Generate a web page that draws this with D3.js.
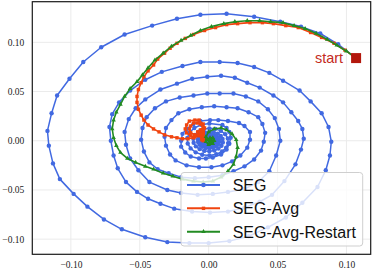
<!DOCTYPE html>
<html><head><meta charset="utf-8">
<script src="https://cdn.jsdelivr.net/npm/d3@7"></script>
<style>html,body{margin:0;padding:0;background:#fff;}svg{display:block;}</style>
</head><body>
<script>
// ---- data ----
const xTicks = [-0.10, -0.05, 0.00, 0.05, 0.10];
const xTickLabels = ["\u22120.10", "\u22120.05", "0.00", "0.05", "0.10"];
const yTicks = [-0.10, -0.05, 0.00, 0.05, 0.10];
const yTickLabels = ["\u22120.10", "\u22120.05", "0.00", "0.05", "0.10"];
const seriesNames = ["SEG", "SEG-Avg", "SEG-Avg-Restart"];
const startPoint = [0.107, 0.084];
const startLabel = "start";

const seg = [
[0.107,0.084],[0.094,0.098],[0.081,0.109],[0.067,0.116],[0.052,0.121],[0.033,0.126],[0.013,0.129],[-0.006,0.128],[-0.023,0.124],[-0.041,0.117],[-0.061,0.108],[-0.078,0.095],[-0.091,0.080],[-0.101,0.063],[-0.110,0.046],[-0.114,0.028],[-0.117,0.010],[-0.116,-0.005],[-0.113,-0.023],[-0.108,-0.039],[-0.098,-0.054],[-0.088,-0.067],[-0.076,-0.080],[-0.063,-0.090],[-0.046,-0.098],[-0.030,-0.103],[-0.014,-0.104],[0.000,-0.104],[0.015,-0.102],[0.029,-0.097],[0.043,-0.088],[0.056,-0.078],[0.068,-0.063],[0.079,-0.047],[0.085,-0.030],[0.088,-0.015],[0.089,-0.001],
[0.087,0.014],[0.082,0.028],[0.074,0.040],[0.066,0.051],[0.054,0.061],[0.044,0.069],[0.033,0.075],[0.021,0.079],[0.008,0.080],[-0.006,0.080],[-0.019,0.076],[-0.034,0.070],[-0.046,0.062],[-0.057,0.051],[-0.065,0.039],[-0.070,0.027],[-0.072,0.014],[-0.071,0.000],[-0.069,-0.015],[-0.066,-0.028],[-0.060,-0.042],[-0.052,-0.052],[-0.044,-0.059],[-0.035,-0.064],[-0.025,-0.069],[-0.012,-0.072],[0.001,-0.073],[0.014,-0.072],[0.026,-0.068],[0.037,-0.062],[0.046,-0.055],[0.055,-0.041],[0.063,-0.024],[0.067,-0.009],[0.069,0.002],
[0.068,0.012],[0.065,0.020],[0.060,0.029],[0.054,0.039],[0.047,0.046],[0.037,0.054],[0.028,0.059],[0.019,0.064],[0.009,0.066],[-0.001,0.065],[-0.012,0.063],[-0.023,0.058],[-0.035,0.052],[-0.046,0.042],[-0.053,0.033],[-0.058,0.022],[-0.061,0.009],[-0.060,-0.004],[-0.057,-0.018],[-0.051,-0.030],[-0.043,-0.042],[-0.030,-0.050],[-0.020,-0.053],[-0.008,-0.055],[0.003,-0.054],[0.014,-0.052],[0.026,-0.049],[0.036,-0.042],[0.044,-0.031],[0.049,-0.015],[0.052,0.000],
[0.051,0.012],[0.048,0.023],[0.043,0.032],[0.036,0.040],[0.027,0.045],[0.018,0.048],[0.008,0.048],[-0.001,0.048],[-0.011,0.046],[-0.021,0.044],[-0.031,0.040],[-0.039,0.033],[-0.045,0.024],[-0.048,0.013],[-0.049,0.001],[-0.047,-0.011],[-0.043,-0.022],[-0.037,-0.029],[-0.029,-0.033],[-0.020,-0.037],[-0.010,-0.038],[0.000,-0.037],[0.010,-0.035],[0.018,-0.031],[0.026,-0.026],[0.033,-0.019],[0.038,-0.010],[0.040,-0.001],[0.041,0.008],
[0.039,0.017],[0.036,0.024],[0.029,0.029],[0.021,0.033],[0.013,0.034],[0.004,0.035],[-0.005,0.034],[-0.014,0.032],[-0.022,0.028],[-0.027,0.021],[-0.031,0.013],[-0.032,0.004],[-0.031,-0.005],[-0.028,-0.014],[-0.024,-0.020],[-0.016,-0.025],[-0.007,-0.027],[0.002,-0.027],[0.010,-0.025],[0.017,-0.021],[0.023,-0.015],[0.028,-0.007],[0.030,0.001],
[0.030,0.009],[0.026,0.015],[0.022,0.018],[0.014,0.020],[0.007,0.021],[0.001,0.021],[-0.006,0.020],[-0.011,0.017],[-0.016,0.012],[-0.019,0.007],[-0.020,0.000],[-0.020,-0.006],[-0.017,-0.012],[-0.013,-0.016],[-0.007,-0.018],[-0.002,-0.018],[0.003,-0.017],[0.009,-0.014],[0.013,-0.009],[0.015,-0.003],[0.016,0.003],[0.015,0.009],[0.013,0.013],[0.010,0.016],
[0.0005,0.0175],[-0.0054,0.0162],[-0.0104,0.0129],[-0.0139,0.0083],[-0.0155,0.0028],[-0.0152,-0.0028],[-0.0131,-0.0078],[-0.0094,-0.0118],[-0.0047,-0.0142],[0.0005,-0.0149],[0.0055,-0.0137],[0.0097,-0.0110],[0.0127,-0.0070],[0.0141,-0.0024],[0.0139,0.0024],[0.0120,0.0067],[0.0089,0.0100],[0.0049,0.0121],
[0.0005,0.0126],[-0.0037,0.0117],[-0.0073,0.0093],[-0.0099,0.0060],[-0.0111,0.0020],[-0.0109,-0.0020],[-0.0093,-0.0057],[-0.0066,-0.0085],[-0.0032,-0.0103],[0.0005,-0.0107],[0.0041,-0.0099],[0.0071,-0.0079],[0.0093,-0.0051],[0.0103,-0.0017],[0.0101,0.0017],[0.0088,0.0048],[0.0066,0.0072],[0.0037,0.0087],
[0.0005,0.0091],[-0.0026,0.0084],[-0.0052,0.0067],[-0.0070,0.0043],[-0.0078,0.0015],[-0.0077,-0.0014],[-0.0066,-0.0041],[-0.0047,-0.0061],[-0.0022,-0.0074],[0.0005,-0.0077],[0.0031,-0.0071],[0.0053,-0.0057],[0.0068,-0.0037],[0.0076,-0.0013],[0.0075,0.0012],[0.0065,0.0035],[0.0049,0.0052],[0.0028,0.0063],
[0.0005,0.0066],[-0.0017,0.0061],[-0.0036,0.0048],[-0.0049,0.0031],[-0.0055,0.0011],[-0.0054,-0.0010],[-0.0046,-0.0029],[-0.0032,-0.0044],[-0.0014,-0.0053],[0.0005,-0.0056],[0.0024,-0.0051],[0.0040,-0.0041],[0.0051,-0.0026],[0.0056,-0.0009],[0.0055,0.0009],[0.0048,0.0025],[0.0037,0.0038],[0.0022,0.0045],
[0.0005,0.0047],[-0.0011,0.0044],[-0.0024,0.0035],[-0.0034,0.0022],[-0.0038,0.0008],[-0.0038,-0.0008],[-0.0032,-0.0021],[-0.0022,-0.0032],[-0.0009,-0.0038],[0.0005,-0.0040],[0.0019,-0.0037],[0.0030,-0.0030],[0.0038,-0.0019],[0.0042,-0.0007],[0.0041,0.0006],[0.0036,0.0018],[0.0028,0.0027],[0.0017,0.0033],
[0.0005,0.0031],[-0.0010,0.0024],[-0.0020,0.0010],[-0.0021,-0.0005],[-0.0014,-0.0018],[0.0000,-0.0024],[0.0014,-0.0020],[0.0022,-0.0009],[0.0023,0.0004],[0.0017,0.0014],[0.0008,0.0018]
];

const segAvg = [
[0.107,0.084],[0.099,0.092],[0.091,0.099],[0.082,0.105],[0.074,0.110],[0.065,0.115],[0.056,0.117],[0.047,0.119],[0.039,0.120],[0.030,0.120],[0.021,0.119],[0.013,0.118],[0.005,0.115],[-0.003,0.112],[-0.011,0.108],[-0.017,0.104],[-0.023,0.099],[-0.028,0.094],[-0.032,0.089],[-0.037,0.083],[-0.040,0.077],[-0.044,0.071],[-0.047,0.065],[-0.049,0.059],[-0.051,0.052],[-0.052,0.045],[-0.052,0.039],[-0.051,0.032],[-0.049,0.026],[-0.047,0.021],[-0.044,0.016],[-0.040,0.012],[-0.036,0.009],[-0.032,0.006],[-0.027,0.004],[-0.023,0.003],[-0.019,0.002],[-0.015,0.002],
[-0.011,0.003],[-0.007,0.005],[-0.004,0.008],[-0.003,0.013],[-0.004,0.017],[-0.007,0.021],[-0.010,0.021],[-0.014,0.020],[-0.016,0.016],[-0.017,0.012],[-0.016,0.008],[-0.013,0.005],[-0.010,0.004],[-0.007,0.006],[-0.004,0.009],[-0.004,0.013],[-0.006,0.017],[-0.008,0.018],[-0.011,0.018],[-0.013,0.015],[-0.014,0.012],[-0.013,0.008],[-0.010,0.006],[-0.007,0.006],[-0.005,0.008],
[-0.005,0.011],[-0.006,0.011],[-0.008,0.009],[-0.007,0.006],[-0.005,0.005],[-0.004,0.007],[-0.004,0.009],[-0.005,0.009],[-0.006,0.007],[-0.005,0.005],[-0.003,0.003],[-0.004,0.002],[-0.005,0.003],[-0.004,0.004],[-0.003,0.002],[-0.003,0.001],[-0.004,0.000],[-0.005,0.001]
];

const segAvgRestart = [
[0.107,0.084],[0.100,0.091],[0.093,0.097],[0.086,0.103],[0.078,0.109],[0.070,0.114],[0.062,0.117],[0.054,0.120],[0.045,0.121],[0.037,0.122],[0.028,0.122],[0.019,0.121],[0.011,0.119],[0.002,0.116],[-0.006,0.112],[-0.013,0.107],[-0.020,0.102],[-0.027,0.096],[-0.033,0.089],[-0.039,0.082],[-0.044,0.074],[-0.048,0.067],[-0.052,0.060],[-0.057,0.053],[-0.061,0.045],[-0.064,0.037],[-0.067,0.029],[-0.069,0.021],[-0.070,0.012],[-0.069,0.003],[-0.067,-0.005],[-0.064,-0.012],[-0.059,-0.018],[-0.053,-0.022],[-0.046,-0.026],[-0.040,-0.029],[-0.033,-0.033],[-0.026,-0.036],[-0.019,-0.039],[-0.011,-0.041],[-0.004,-0.042],[0.003,-0.041],[0.009,-0.037],[0.014,-0.031],[0.018,-0.024],[0.020,-0.016],[0.021,-0.007],[0.020,0.001],[0.017,0.007],[0.013,0.011],[0.009,0.013],[0.004,0.012],[0.000,0.009],[-0.002,0.004],[-0.002,-0.001],[0.000,-0.004],[0.003,-0.003],[0.004,0.000],[0.003,0.003],[0.001,0.003],[-0.001,0.001],[0.001,-0.002],[0.002,-0.001],[0.002,0.001],[0.001,0.001]
];

// ---- layout ----
const W = 374, H = 273;
const plotLeft = 32.3, plotRight = 370.7, plotTop = 1.7, plotBottom = 254.3;
const colors = { seg: "#4169e1", avg: "#f0440f", restart: "#228b22" };

const svg = d3.select("body").append("svg").attr("width", W).attr("height", H);

const x = d3.scaleLinear().domain([-0.128, 0.1176]).range([plotLeft, plotRight]);
const y = d3.scaleLinear().domain([-0.1154, 0.1413]).range([plotBottom, plotTop]);

// grid
const grid = svg.append("g");
grid.selectAll("line.gx").data(xTicks).enter().append("line")
  .attr("x1", d => x(d)).attr("x2", d => x(d)).attr("y1", plotTop).attr("y2", plotBottom)
  .attr("stroke", "#ebebeb").attr("stroke-width", 1);
grid.selectAll("line.gy").data(yTicks).enter().append("line")
  .attr("y1", d => y(d)).attr("y2", d => y(d)).attr("x1", plotLeft).attr("x2", plotRight)
  .attr("stroke", "#ebebeb").attr("stroke-width", 1);

// axes
const xAxis = d3.axisBottom(x).tickValues(xTicks).tickFormat((d, i) => xTickLabels[i]).tickSize(0).tickPadding(7.3);
const yAxis = d3.axisLeft(y).tickValues(yTicks).tickFormat((d, i) => yTickLabels[i]).tickSize(0).tickPadding(8);
const gx = svg.append("g").attr("transform", `translate(0,${plotBottom})`).call(xAxis);
const gy = svg.append("g").attr("transform", `translate(${plotLeft},0)`).call(yAxis);
[gx, gy].forEach(g => {
  g.select(".domain").remove();
  g.attr("font-family", "'Liberation Serif', 'DejaVu Serif', serif");
  g.selectAll("text").attr("font-family", "'Liberation Serif', 'DejaVu Serif', serif").attr("font-size", 9.5).attr("fill", "#222");
});

const line = d3.line().x(d => x(d[0])).y(d => y(d[1]));
const plot = svg.append("g");

// SEG
plot.append("path").datum(seg).attr("d", line).attr("fill", "none")
  .attr("stroke", colors.seg).attr("stroke-width", 1.5).attr("stroke-linejoin", "round");
plot.append("g").selectAll("circle").data(seg).enter().append("circle")
  .attr("cx", d => x(d[0])).attr("cy", d => y(d[1])).attr("r", 2.2).attr("fill", colors.seg);

// SEG-Avg
plot.append("path").datum(segAvg).attr("d", line).attr("fill", "none")
  .attr("stroke", colors.avg).attr("stroke-width", 1.6).attr("stroke-linejoin", "round");
plot.append("g").selectAll("rect").data(segAvg).enter().append("rect")
  .attr("x", d => x(d[0]) - 1.7).attr("y", d => y(d[1]) - 1.7).attr("width", 3.4).attr("height", 3.4)
  .attr("fill", colors.avg);

// SEG-Avg-Restart
const tri = d3.symbol().type(d3.symbolTriangle).size(9);
plot.append("path").datum(segAvgRestart).attr("d", line).attr("fill", "none")
  .attr("stroke", colors.restart).attr("stroke-width", 1.6).attr("stroke-linejoin", "round");
plot.append("g").selectAll("path").data(segAvgRestart).enter().append("path")
  .attr("d", tri).attr("transform", d => `translate(${x(d[0])},${y(d[1])})`).attr("fill", colors.restart);

// start marker
svg.append("rect").attr("x", x(startPoint[0]) - 5).attr("y", y(startPoint[1]) - 5)
  .attr("width", 10).attr("height", 10).attr("fill", "#b3170c");
svg.append("text").attr("x", x(startPoint[0]) - 13).attr("y", y(startPoint[1]) + 5)
  .attr("text-anchor", "end").attr("font-family", "'Liberation Sans', Arial, sans-serif")
  .attr("font-size", 14.5).attr("fill", "#c42a1c").text(startLabel);

// frame
svg.append("rect").attr("x", plotLeft).attr("y", plotTop).attr("width", plotRight - plotLeft)
  .attr("height", plotBottom - plotTop).attr("fill", "none").attr("stroke", "#1a1a1a").attr("stroke-width", 1.2);

// legend
const lg = svg.append("g");
lg.append("rect").attr("x", 181).attr("y", 172.5).attr("width", 181.7).attr("height", 73.5).attr("rx", 3)
  .attr("fill", "#fff").attr("fill-opacity", 0.8).attr("stroke", "#cfcfcf").attr("stroke-width", 1);
const legendColors = [colors.seg, colors.avg, colors.restart];
seriesNames.forEach((name, i) => {
  const cy = 185 + i * 23.35;
  lg.append("line").attr("x1", 187).attr("x2", 220).attr("y1", cy).attr("y2", cy)
    .attr("stroke", legendColors[i]).attr("stroke-width", 2);
  if (i === 0) lg.append("circle").attr("cx", 203.5).attr("cy", cy).attr("r", 2.3).attr("fill", legendColors[i]);
  if (i === 1) lg.append("rect").attr("x", 201.8).attr("y", cy - 1.7).attr("width", 3.4).attr("height", 3.4).attr("fill", legendColors[i]);
  if (i === 2) lg.append("path").attr("d", tri).attr("transform", `translate(203.5,${cy})`).attr("fill", legendColors[i]);
  lg.append("text").attr("x", 232.7).attr("y", cy + 5.8)
    .attr("font-family", "'Liberation Sans', Arial, sans-serif").attr("font-size", 16).attr("fill", "#111").text(name);
});
</script>
</body></html>
